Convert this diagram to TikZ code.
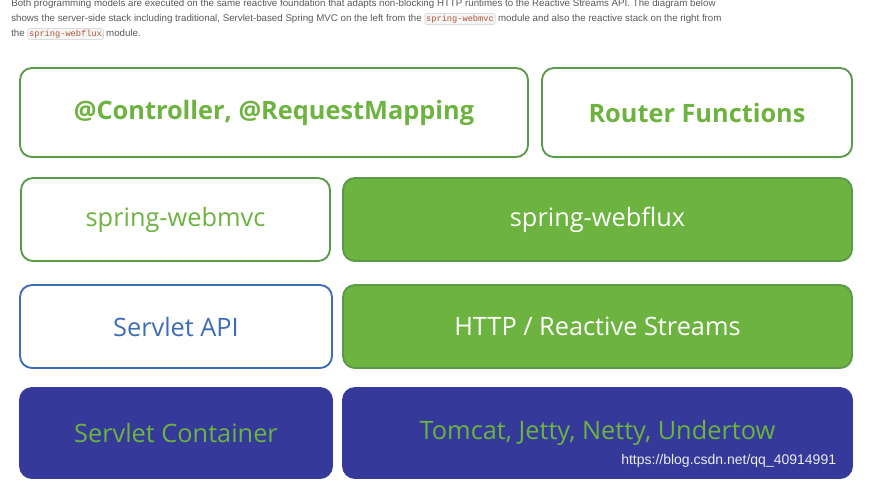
\documentclass[tikz,border=0pt]{standalone}
\usepackage{fontspec}
\setmainfont{Open Sans}
\newfontfamily\notefont{Liberation Sans}
\newfontfamily\codefont{Liberation Mono}
\usetikzlibrary{positioning}
\definecolor{springgreen}{HTML}{6DB33F}
\definecolor{springedge}{HTML}{5A9A4A}
\definecolor{stacknavy}{HTML}{34399A}
\definecolor{apiblue}{HTML}{3D6EB5}
\definecolor{codered}{HTML}{B5543A}
\tikzset{
	layer/.style={rounded corners=9pt, line width=1.4pt, font=\fontsize{19}{22}\selectfont},
	webbox/.style={layer, draw=springedge, fill=white, text=springgreen},
	fluxbox/.style={layer, draw=springedge, fill=springgreen, text=white},
	apibox/.style={layer, draw=apiblue, fill=white, text=apiblue},
	hostbox/.style={layer, draw=stacknavy, fill=stacknavy, text=springgreen},
	code/.style={draw=gray!40, fill=gray!8, rounded corners=1pt, inner sep=1pt, text=codered, font=\codefont\fontsize{6.5}{7}\selectfont}
}
\begin{document}
\begin{tikzpicture}[x=0.75pt, y=-0.75pt]
	\useasboundingbox (0,0) rectangle (872,480);

	%Intro text
	\node[anchor=north west, inner sep=0, text=gray!70!black, align=left, font=\notefont\fontsize{7.3}{11.2}\selectfont] (intro) at (11,-1)
	{Both programming models are executed on the same reactive foundation that adapts non-blocking HTTP runtimes to the Reactive Streams API. The diagram below\\
	shows the server-side stack including traditional, Servlet-based Spring MVC on the left from the \tikz[baseline=(c.base)]\node[code] (c) {spring-webmvc}; module and also the reactive stack on the right from\\
	the \tikz[baseline=(c.base)]\node[code] (c) {spring-webflux}; module.};

	%Programming models
	\draw[webbox] (20,68) rectangle (528,157) node[midway, font=\bfseries\fontsize{19}{22}\selectfont] (ctrl) {@Controller, @RequestMapping};
	\draw[webbox] (542,68) rectangle (852,157) node[midway, font=\bfseries\fontsize{19}{22}\selectfont] (router) {Router Functions};

	%Modules
	\draw[webbox] (21,178) rectangle (330,261) node[midway] (webmvc) {spring-webmvc};
	\draw[fluxbox] (343,178) rectangle (852,261) node[midway] (webflux) {spring-webflux};

	%APIs
	\draw[apibox] (20,285) rectangle (332,368) node[midway] (servlet) {Servlet API};
	\draw[fluxbox] (343,285) rectangle (852,368) node[midway] (streams) {HTTP / Reactive Streams};

	%Runtimes
	\draw[hostbox] (20,388) rectangle (332,478) node[midway] (container) {Servlet Container};
	\draw[hostbox] (343,388) rectangle (852,478) node[midway] (servers) {Tomcat, Jetty, Netty, Undertow};

	\node[anchor=west, inner sep=0, text=white!85!gray, font=\notefont\fontsize{10.5}{12}\selectfont] (mark) at (621,461) {https://blog.csdn.net/qq\_40914991};
\end{tikzpicture}
\end{document}
